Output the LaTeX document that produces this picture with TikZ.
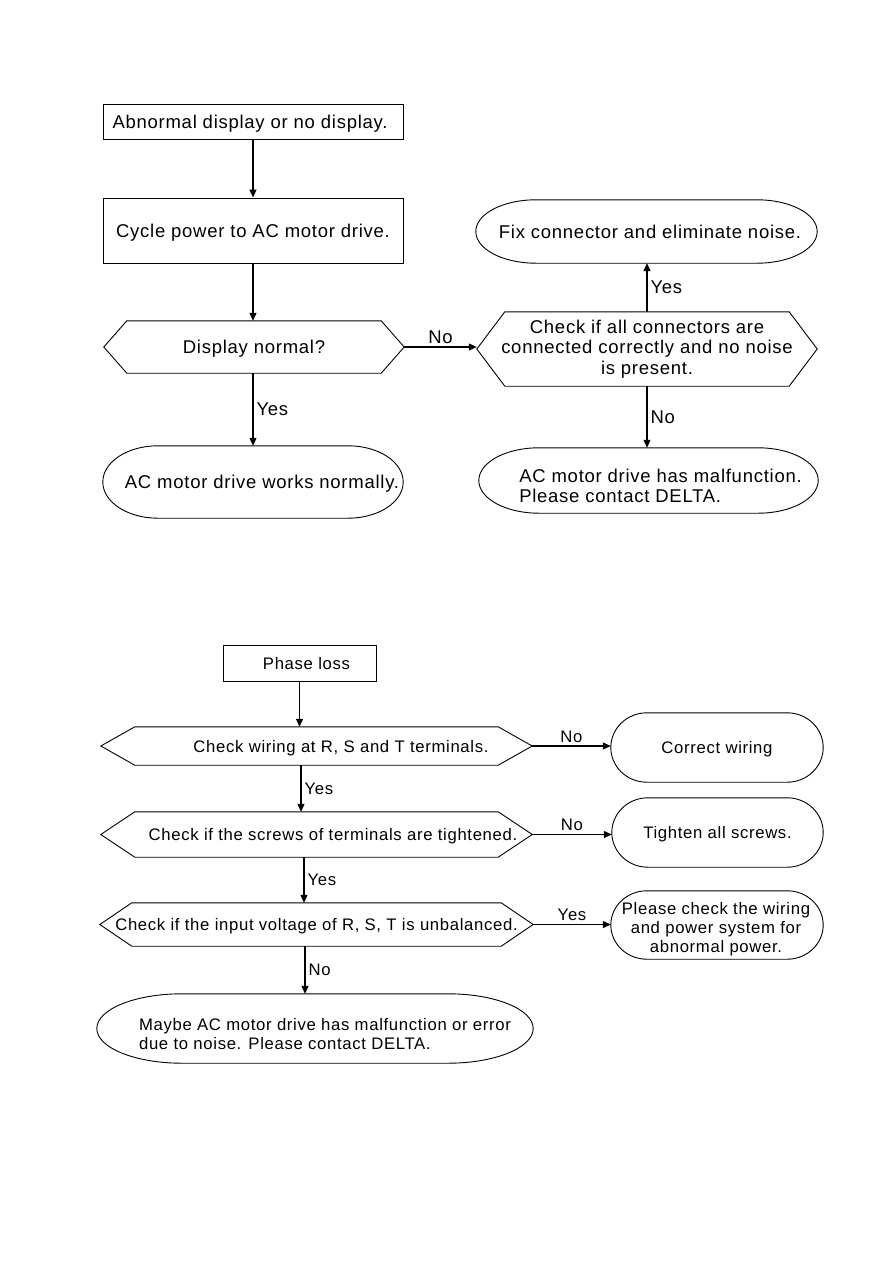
\documentclass[tikz,border=0pt]{standalone}
\usepackage{fontspec}
\setmainfont{Liberation Sans}[LetterSpace=4]
\usetikzlibrary{calc,arrows.meta}
\newcommand\topsize{\fontsize{18.5}{20.5}\selectfont}
\newcommand\botsize{\fontsize{16.7}{19}\selectfont}
\newcommand\hexdraw[2]{\draw[shapeline] (#1.west) -- ($(#1.north west)+(#2,0)$) -- ($(#1.north east)+(-#2,0)$) -- (#1.east) -- ($(#1.south east)+(-#2,0)$) -- ($(#1.south west)+(#2,0)$) -- cycle;}
\newcommand\ovaldraw[2]{\draw[shapeline] ($(#1.north west)+(#2,0)$) -- ($(#1.north east)+(-#2,0)$)
 .. controls ($(#1.north east)+(-0.448*#2,0)$) and ($(#1.east)!0.552!(#1.north east)$) .. (#1.east)
 .. controls ($(#1.east)!0.552!(#1.south east)$) and ($(#1.south east)+(-0.448*#2,0)$) .. ($(#1.south east)+(-#2,0)$)
 -- ($(#1.south west)+(#2,0)$)
 .. controls ($(#1.south west)+(0.448*#2,0)$) and ($(#1.west)!0.552!(#1.south west)$) .. (#1.west)
 .. controls ($(#1.west)!0.552!(#1.north west)$) and ($(#1.north west)+(0.448*#2,0)$) .. ($(#1.north west)+(#2,0)$) -- cycle;}
\begin{document}
\begin{tikzpicture}[x=1pt,y=-1pt,
  shp/.style={rectangle, inner sep=0pt, draw=none, align=center},
  sl/.style={text depth=0pt},
  boxn/.style={shp, sl, draw, line width=1pt},
  txt/.style={inner sep=0pt},
  shapeline/.style={line width=0.9pt},
  arr/.style={line width=1.1pt, -{Triangle[length=8pt,width=7pt]}},
  lblt/.style={inner sep=3pt, font=\topsize},
  lblb/.style={inner sep=3pt, font=\botsize}]
\fill[white] (0,0) rectangle (893,1263);
\useasboundingbox (0,0) rectangle (893,1263);

% ---------- top chart ----------
\node[boxn, minimum width=300pt, minimum height=35pt, font=\topsize] (a1) at (253,121.5) {\hspace*{-6pt}Abnormal display or no display.};
\node[boxn, minimum width=300pt, minimum height=65pt, font=\topsize] (a2) at (253,230.5) {Cycle power to AC motor drive.};
\node[shp, sl, minimum width=300pt, minimum height=52pt, font=\topsize] (a3) at (254,347) {Display normal?};
\hexdraw{a3}{23}
\node[shp, sl, minimum width=300pt, minimum height=72pt, font=\topsize] (a4) at (253,482) {\hspace*{18pt}AC motor drive works normally.};
\ovaldraw{a4}{55}
\node[shp, sl, minimum width=341pt, minimum height=63pt, font=\topsize] (b1) at (646.5,231.5) {\hspace*{7pt}Fix connector and eliminate noise.};
\ovaldraw{b1}{60}
\node[shp, minimum width=340pt, minimum height=74pt, font=\topsize] (b2) at (647,349) {Check if all connectors are\\connected correctly and no noise\\is present.};
\hexdraw{b2}{28}
\node[shp, minimum width=339pt, minimum height=65pt] (b3) at (648.5,480.5) {};
\ovaldraw{b3}{60}
\node[txt, align=left, font=\topsize] (b3t) at (660.5,486) {AC motor drive has malfunction.\\Please contact DELTA.};

\draw[arr] (a1.south) -- (a2.north);
\draw[arr] (a2.south) -- (a2.south |- a3.north);
\draw[arr] (a2.south |- a3.south) -- (a2.south |- a4.north) node[lblt, midway, right] {Yes};
\draw[arr] (a3.east) -- (a3.east -| b2.west) node[lblt, midway, above] {No};
\draw[arr] (b2.north) -- (b2.north |- b1.south) node[lblt, midway, right] {Yes};
\draw[arr] (b2.south) -- (b2.south |- b3.north) node[lblt, midway, right] {No};

% ---------- bottom chart ----------
\node[boxn, minimum width=153pt, minimum height=36pt, font=\botsize] (c1) at (299.5,663) {\hspace*{14pt}Phase loss};
\node[shp, sl, minimum width=431pt, minimum height=38pt, font=\botsize] (c2) at (316.5,746) {\hspace*{49pt}Check wiring at R, S and T terminals.};
\hexdraw{c2}{34}
\node[shp, sl, minimum width=431pt, minimum height=45pt, font=\botsize] (c3) at (316.5,834.5) {\hspace*{33pt}Check if the screws of terminals are tightened.};
\hexdraw{c3}{34}
\node[shp, sl, minimum width=433pt, minimum height=43pt, font=\botsize] (c4) at (316.5,924.5) {Check if the input voltage of R, S, T is unbalanced.};
\hexdraw{c4}{32}
\node[shp, minimum width=436pt, minimum height=69pt] (c5) at (315,1028.5) {};
\ovaldraw{c5}{85}
\node[txt, align=left, font=\botsize] (c5t) at (325,1034) {Maybe AC motor drive has malfunction or error\\due to noise. Please contact DELTA.};
\node[shp, sl, minimum width=212pt, minimum height=69pt, font=\botsize] (d1) at (717,747.5) {Correct wiring};
\ovaldraw{d1}{36}
\node[shp, sl, minimum width=211pt, minimum height=69pt, font=\botsize] (d2) at (717.5,832.5) {Tighten all screws.};
\ovaldraw{d2}{36}
\node[shp, minimum width=212pt, minimum height=68pt] (d3) at (717,925) {};
\ovaldraw{d3}{36}
\node[txt, align=center, font=\botsize] (d3t) at (716,929) {Please check the wiring\\and power system for\\abnormal power.};

\draw[arr] (c1.south) -- (c1.south |- c2.north);
\draw[arr] ([xshift=-15.5pt]c2.south) -- ([xshift=-15.5pt]c2.south |- c3.north) node[lblb, midway, right] {Yes};
\draw[arr] ([xshift=-12.5pt]c3.south) -- ([xshift=-12.5pt]c3.south |- c4.north) node[lblb, midway, right] {Yes};
\draw[arr] ([xshift=-11.5pt]c4.south) -- ([xshift=-11.5pt]c4.south |- c5.north) node[lblb, midway, right] {No};
\draw[arr] (c2.east) -- (c2.east -| d1.west) node[lblb, midway, above] {No};
\draw[arr] (c3.east) -- (c3.east -| d2.west) node[lblb, midway, above] {No};
\draw[arr] (c4.east) -- (c4.east -| d3.west) node[lblb, midway, above] {Yes};
\end{tikzpicture}
\end{document}
